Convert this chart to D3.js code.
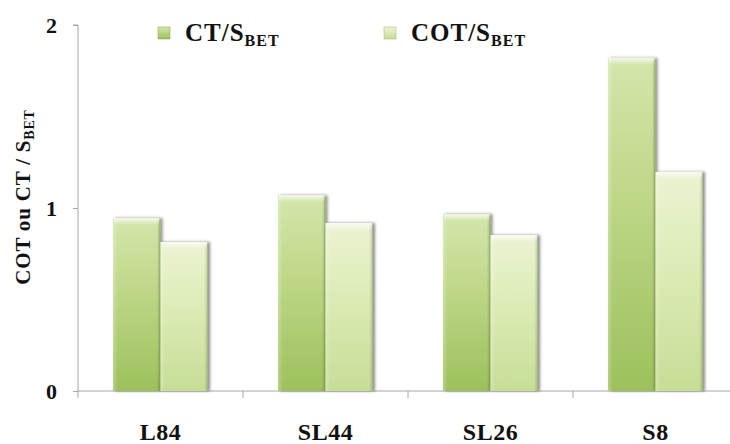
<!DOCTYPE html>
<html>
<head>
<meta charset="utf-8">
<script src="https://cdn.jsdelivr.net/npm/d3@7"></script>
<style>
  html, body { margin: 0; padding: 0; background: #fff; }
  svg { display: block; }
</style>
</head>
<body>
<svg id="chart" width="730" height="444"></svg>
<script>
// Samples and the two ratios per sample
const categories = ["L84", "SL44", "SL26", "S8"];
const ctValues  = [0.945, 1.07, 0.967, 1.82];
const cotValues = [0.814, 0.918, 0.852, 1.197];
const seriesNames = ["CT", "COT"];
const yTickValues = [0, 1, 2];

const FONT = "'Liberation Serif', 'Times New Roman', serif";
const styleText = sel => sel.style("font-family", FONT).style("font-weight", "bold").style("fill", "#111");

const svg = d3.select("#chart");
const margin = { left: 78, top: 25, bottom: 391, right: 738 };

const x = d3.scaleBand().domain(categories).range([margin.left, margin.right])
  .paddingInner(0).paddingOuter(0);
const groupPad = 35;
const xSub = d3.scaleBand().domain(seriesNames)
  .range([groupPad, x.bandwidth() - groupPad]);
const y = d3.scaleLinear().domain([0, 2]).range([margin.bottom, margin.top]);

const defs = svg.append("defs");
const palettes = {
  CT:  { top: "#d4e6ac", mid: "#bcd685", bot: "#9dc05c", edge: "#7f9c48" },
  COT: { top: "#ebf3d3", mid: "#dcebb5", bot: "#c6dd96", edge: "#9fb672" }
};
Object.entries(palettes).forEach(([k, p]) => {
  const g = defs.append("linearGradient").attr("id", "grad-" + k)
    .attr("x1", 0).attr("y1", 0).attr("x2", 0).attr("y2", 1);
  g.append("stop").attr("offset", "0%").attr("stop-color", p.top);
  g.append("stop").attr("offset", "45%").attr("stop-color", p.mid);
  g.append("stop").attr("offset", "100%").attr("stop-color", p.bot);
  const s = defs.append("linearGradient").attr("id", "side-" + k)
    .attr("x1", 0).attr("y1", 0).attr("x2", 1).attr("y2", 0);
  s.append("stop").attr("offset", "0%").attr("stop-color", "#fff").attr("stop-opacity", 0.25);
  s.append("stop").attr("offset", "10%").attr("stop-color", "#fff").attr("stop-opacity", 0);
  s.append("stop").attr("offset", "92%").attr("stop-color", "#000").attr("stop-opacity", 0);
  s.append("stop").attr("offset", "100%").attr("stop-color", "#000").attr("stop-opacity", 0.18);
  // bevel along the top edge
  const t = defs.append("linearGradient").attr("id", "bevel-" + k)
    .attr("x1", 0).attr("y1", 0).attr("x2", 0).attr("y2", 1);
  t.append("stop").attr("offset", "0%").attr("stop-color", "#fff").attr("stop-opacity", 0.75);
  t.append("stop").attr("offset", "60%").attr("stop-color", "#fff").attr("stop-opacity", 0.3);
  t.append("stop").attr("offset", "100%").attr("stop-color", "#fff").attr("stop-opacity", 0);
});
const shadow = defs.append("filter").attr("id", "shadow")
  .attr("x", "-10%").attr("y", "-10%").attr("width", "130%").attr("height", "120%");
shadow.append("feGaussianBlur").attr("in", "SourceAlpha").attr("stdDeviation", 1.5);
shadow.append("feOffset").attr("dx", 2).attr("dy", 0).attr("result", "b");
shadow.append("feComponentTransfer").append("feFuncA").attr("type", "linear").attr("slope", 0.45);
const fm = shadow.append("feMerge");
fm.append("feMergeNode");
fm.append("feMergeNode").attr("in", "SourceGraphic");

// Axes
const axisColor = "#a6a6a6";
const yAxis = svg.append("g").attr("transform", `translate(${margin.left},0)`)
  .call(d3.axisLeft(y).tickValues(yTickValues).tickSize(5).tickFormat(d3.format("d")));
yAxis.selectAll("path, line").attr("stroke", axisColor);
yAxis.select(".domain").attr("d", `M-5,${y(2)}H0V${y(0)}`);
yAxis.selectAll("text").attr("x", -21).attr("dy", "0.36em").style("font-size", "22px").call(styleText);

const xAxisG = svg.append("g").attr("transform", `translate(0,${margin.bottom})`);
xAxisG.append("line").attr("x1", margin.left).attr("x2", margin.right)
  .attr("stroke", axisColor);
xAxisG.selectAll("line.tk")
  .data(categories.map(c => x(c)).concat([margin.right]))
  .join("line").attr("class", "tk")
  .attr("x1", d => d).attr("x2", d => d).attr("y1", 0).attr("y2", 7)
  .attr("stroke", axisColor);
xAxisG.selectAll("text").data(categories).join("text")
  .attr("x", d => x(d) + x.bandwidth() / 2).attr("y", 49)
  .attr("text-anchor", "middle").style("font-size", "24px").style("letter-spacing", "0.5px")
  .call(styleText).text(d => d);

// Bars
const rows = categories.map((c, i) => ({ c, CT: ctValues[i], COT: cotValues[i] }));
const groups = svg.append("g").selectAll("g").data(rows).join("g")
  .attr("transform", d => `translate(${x(d.c)},0)`);
const bars = groups.selectAll("g.bar")
  .data(d => seriesNames.map(k => ({ k, v: d[k] })))
  .join("g").attr("class", "bar");
bars.append("rect")
  .attr("x", d => xSub(d.k)).attr("width", xSub.bandwidth())
  .attr("y", d => y(d.v)).attr("height", d => y(0) - y(d.v))
  .attr("fill", d => `url(#grad-${d.k})`)
  .attr("filter", "url(#shadow)");
bars.append("rect")
  .attr("x", d => xSub(d.k)).attr("width", xSub.bandwidth())
  .attr("y", d => y(d.v)).attr("height", d => y(0) - y(d.v))
  .attr("fill", d => `url(#side-${d.k})`);
bars.append("rect")
  .attr("x", d => xSub(d.k) + 1).attr("width", xSub.bandwidth() - 2)
  .attr("y", d => y(d.v)).attr("height", 7)
  .attr("fill", d => `url(#bevel-${d.k})`);
bars.append("line")
  .attr("x1", d => xSub(d.k) + xSub.bandwidth() - 0.5)
  .attr("x2", d => xSub(d.k) + xSub.bandwidth() - 0.5)
  .attr("y1", d => y(d.v) + 2).attr("y2", y(0))
  .attr("stroke", d => palettes[d.k].edge).attr("stroke-opacity", 0.7);

// Y axis title
const yTitle = svg.append("text")
  .attr("transform", `translate(30,197) rotate(-90)`)
  .attr("text-anchor", "middle").style("font-size", "21px").style("letter-spacing", "0.8px")
  .call(styleText);
yTitle.append("tspan").text("COT ou CT / S");
yTitle.append("tspan").style("font-size", "14px").attr("dy", 4).text("BET");

// Legend
const legendX = [158, 384];
const legend = svg.append("g").selectAll("g").data(seriesNames).join("g")
  .attr("transform", (d, i) => `translate(${legendX[i]},27)`);
legend.append("rect").attr("width", 12).attr("height", 12)
  .attr("fill", d => `url(#grad-${d})`).attr("stroke", d => palettes[d].edge)
  .attr("stroke-width", 0.5);
const lt = legend.append("text").attr("x", 27).attr("y", 14)
  .style("font-size", "25px").style("letter-spacing", "1px").call(styleText);
lt.append("tspan").text(d => d + "/S");
lt.append("tspan").style("font-size", "16px").attr("dy", 5).text("BET");
</script>
</body>
</html>
